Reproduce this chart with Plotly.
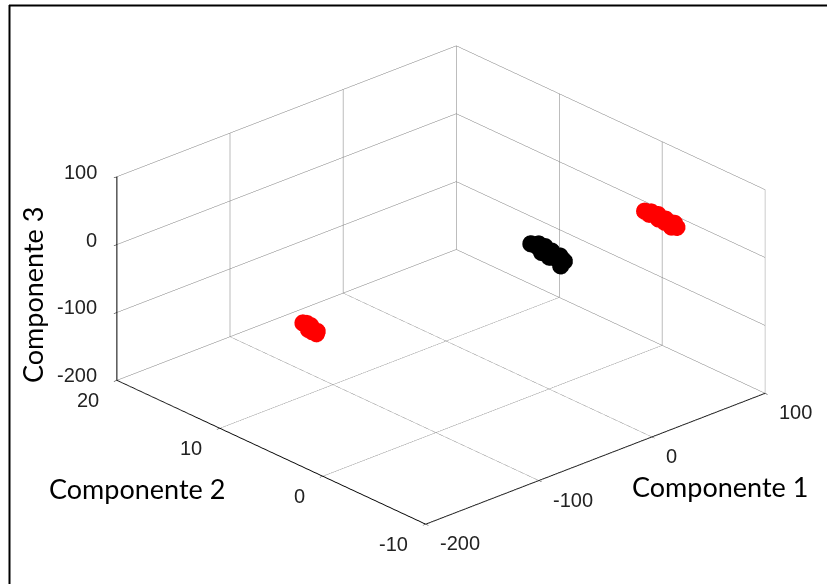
import plotly.graph_objects as go

# Tick values
x_ticks = [-200, -100, 0, 100]
y_ticks = [-10, 0, 10, 20]
z_ticks = [-200, -100, 0, 100]

# Black group (Componente 1, 2, 3)
black_c1 = [-3, 2, -2, 3, 0, -4, 3, 1, -3, 4, -1, 3, 2, -3]
black_c2 = [1.45, 1.25, 0.95, 0.75, 0.5, 0.3, 0.1, -0.1, -0.35, -0.6, -0.8, -1.0, -1.25, -1.45]
black_c3 = [6, 4, 5, 3, 2, 2, 1, 0, -1, -2, -1.5, -4, -4, -6]

# Red group A (right)
redA_c1 = [88, 91, 87, 92, 90, 88, 92, 89, 91, 93, 88, 91]
redA_c2 = [0.4, 0.1, -0.15, -0.45, -0.7, -0.95, -1.2, -1.45, -1.7, -1.95, -2.2, -2.4]
redA_c3 = [3, 2, 3, 1.5, 1, 1, 0, -1, -1, -1.5, -2, -3]

# Red group B (left)
redB_c1 = [-194, -192, -193, -191, -193, -195, -192, -194, -191, -193]
redB_c2 = [2.6, 2.45, 2.3, 2.2, 2.05, 1.95, 1.8, 1.7, 1.55, 1.4]
redB_c3 = [4, 3, 2.5, 1, 0.5, -0.5, -1, -2.5, -3, -4]

xr, yr, zr = [-200, 100], [-10, 20], [-200, 100]

fig = go.Figure()
mk = dict(size=10, line=dict(width=0))
fig.add_trace(go.Scatter3d(x=black_c1, y=black_c2, z=black_c3, mode="markers",
                           marker=dict(color="#000000", **mk), showlegend=False))
fig.add_trace(go.Scatter3d(x=redA_c1, y=redA_c2, z=redA_c3, mode="markers",
                           marker=dict(color="#ff0000", **mk), showlegend=False))
fig.add_trace(go.Scatter3d(x=redB_c1, y=redB_c2, z=redB_c3, mode="markers",
                           marker=dict(color="#ff0000", **mk), showlegend=False))

def ax(rng, ticks):
    return dict(range=rng, tickvals=ticks, showticklabels=False,
                showbackground=False, showgrid=True, gridcolor="#7a7a7a", gridwidth=1,
                zeroline=False, showline=True, linecolor="#000000", linewidth=2,
                ticks="outside", ticklen=4, tickcolor="#000000",
                title=dict(text=""), showspikes=False, autorange=False)

# Upright tick labels placed at the tick positions through the scene axes
tfont = dict(family="Liberation Sans, Arial", size=20, color="#222222")
scene_ann = []
for t in x_ticks:
    scene_ann.append(dict(x=t, y=yr[0], z=zr[0], text=str(t), showarrow=False,
                          xanchor="left", yanchor="middle", xshift=12, yshift=-19, font=tfont))
for t in y_ticks:
    scene_ann.append(dict(x=xr[0], y=t, z=zr[0], text=str(t), showarrow=False,
                          xanchor="right", yanchor="middle", xshift=-16, yshift=-20, font=tfont))
for t in z_ticks:
    scene_ann.append(dict(x=xr[0], y=yr[1], z=t, text=str(t), showarrow=False,
                          xanchor="right", yanchor="middle", xshift=-18, yshift=5, font=tfont))

m = 1.6
eye = dict(x=-0.6095 * m, y=-0.6699 * m, z=0.4238 * m)
k = 1.61

lab_font = dict(family="Lato", size=27, color="black")
fig.update_layout(
    width=827, height=584,
    margin=dict(l=0, r=0, t=0, b=0),
    paper_bgcolor="white",
    scene=dict(
        domain=dict(x=[0.067, 1.0], y=[0.024, 1.0]),
        xaxis=ax(xr, x_ticks),
        yaxis=ax(yr, y_ticks),
        zaxis=ax(zr, z_ticks),
        aspectmode="manual",
        aspectratio=dict(x=1 * k, y=1 * k, z=0.49 * k),
        camera=dict(eye=eye, up=dict(x=0, y=0, z=1), center=dict(x=0, y=0, z=0),
                    projection=dict(type="orthographic")),
        annotations=scene_ann,
    ),
    shapes=[
        dict(type="line", xref="paper", yref="paper", x0=9/827, x1=1.0, y0=1-5.5/584, y1=1-5.5/584,
             line=dict(color="black", width=2)),
        dict(type="line", xref="paper", yref="paper", x0=9.5/827, x1=9.5/827, y0=0, y1=1-5/584,
             line=dict(color="black", width=2)),
    ],
    annotations=[
        dict(text="Componente 1", x=720/827, y=1-486/584, xref="paper", yref="paper",
             xanchor="center", yanchor="middle", showarrow=False, font=lab_font),
        dict(text="Componente 2", x=137/827, y=1-488/584, xref="paper", yref="paper",
             xanchor="center", yanchor="middle", showarrow=False, font=lab_font),
        dict(text="Componente 3", x=32/827, y=1-295/584, xref="paper", yref="paper",
             xanchor="center", yanchor="middle", showarrow=False, textangle=-90, font=lab_font),
    ],
)

fig.write_html("out.html")
